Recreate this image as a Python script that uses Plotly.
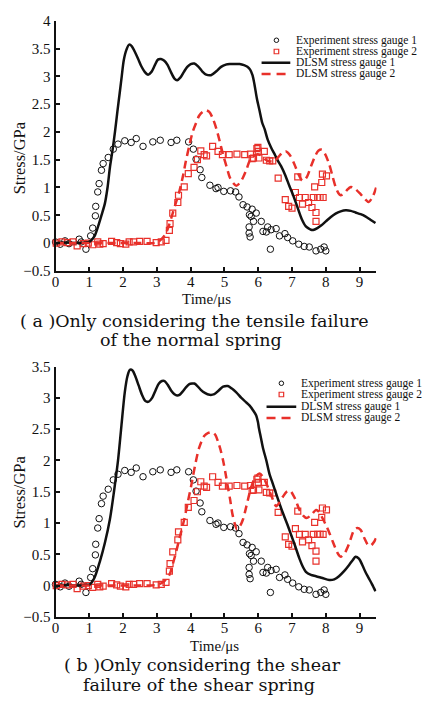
import plotly.graph_objects as go

# ---------------- data ----------------
# Experimental gauge readings (same test, shown in both panels)
exp1_t = [0.0, 0.14, 0.28, 0.40, 0.70, 0.76, 0.90, 1.04, 1.10, 1.18, 1.19, 1.25, 1.29, 1.36, 1.41,
          1.56, 1.71, 1.85, 2.05, 2.24, 2.39, 2.59, 2.88, 3.10, 3.42, 3.59, 3.94, 4.08, 4.16, 4.28,
          4.33, 4.57, 4.75, 4.81, 4.98, 5.18, 5.33, 5.43, 5.55, 5.67, 5.82, 5.74, 5.79, 5.94, 5.86,
          5.73, 5.73, 5.76, 6.09, 6.28, 6.14, 6.24, 6.38, 6.53, 6.36, 6.63, 6.79, 6.87, 7.02, 7.20,
          7.36, 7.51, 7.71, 7.85, 7.95, 8.00]
exp1_s = [0.02, -0.02, 0.04, -0.01, 0.07, 0.02, -0.11, 0.13, 0.27, 0.49, 0.66, 0.92, 1.07, 1.31, 1.43,
          1.54, 1.69, 1.78, 1.84, 1.81, 1.88, 1.74, 1.82, 1.85, 1.81, 1.85, 1.82, 1.69, 1.51, 1.32,
          1.18, 1.04, 0.98, 1.00, 0.93, 0.94, 0.92, 0.83, 0.69, 0.65, 0.61, 0.51, 0.48, 0.54, 0.39,
          0.29, 0.18, 0.11, 0.39, 0.29, 0.21, 0.20, 0.24, 0.26, -0.11, 0.13, 0.17, 0.10, 0.04, -0.02,
          -0.06, -0.07, -0.14, -0.11, -0.07, -0.14]

exp2_t = [0.02, 0.19, 0.35, 0.52, 0.64, 0.82, 0.97, 1.10, 1.25, 1.31, 1.41, 1.66, 1.81, 1.92, 2.08,
          2.18, 2.31, 2.49, 2.71, 2.98, 3.13, 3.27, 3.37, 3.39, 3.47, 3.62, 3.64, 3.81, 3.93, 4.10,
          4.20, 4.30, 4.40, 4.47, 4.65, 4.81, 4.94, 5.14, 5.37, 5.60, 5.77, 5.82, 5.86, 5.96, 5.99,
          6.00, 6.02, 6.18, 6.24, 6.34, 6.43, 6.59, 6.80, 6.90, 7.00, 7.10, 7.17, 7.22, 7.31, 7.39,
          7.49, 7.59, 7.63, 7.67, 7.71, 7.71, 7.76, 7.83, 7.88, 7.92, 7.90, 8.02]
exp2_s = [0.00, 0.02, 0.01, 0.02, -0.05, -0.01, 0.00, -0.03, 0.02, -0.02, -0.01, 0.03, 0.01, -0.01, -0.02,
          0.02, 0.02, 0.03, 0.03, 0.01, 0.02, 0.05, 0.23, 0.35, 0.54, 0.73, 0.86, 1.01, 1.25, 1.36,
          1.50, 1.66, 1.59, 1.57, 1.74, 1.65, 1.59, 1.59, 1.60, 1.59, 1.60, 1.52, 1.53, 1.70, 1.72,
          1.65, 1.53, 1.65, 1.49, 1.48, 1.48, 1.17, 0.78, 0.66, 0.63, 0.91, 1.19, 0.82, 0.70, 0.82,
          0.73, 0.64, 0.82, 1.01, 0.55, 0.39, 0.82, 0.82, 1.09, 0.82, 1.24, 1.21]

# DLSM, tensile failure of the normal spring only
a_g1_t = [0, 0.3, 0.6, 0.9, 1.02, 1.15, 1.26, 1.36, 1.46, 1.54, 1.61, 1.69, 1.76, 1.83, 1.9, 1.96,
          2.02, 2.1, 2.18, 2.26, 2.34, 2.44, 2.54, 2.64, 2.74, 2.84, 2.94, 3.03, 3.12, 3.22, 3.32,
          3.42, 3.52, 3.6, 3.7, 3.8, 3.9, 4.0, 4.11, 4.22, 4.34, 4.46, 4.6, 4.76, 4.9, 5.04, 5.16,
          5.3, 5.45, 5.58, 5.68, 5.76, 5.83, 5.89, 5.96, 6.04, 6.12, 6.19, 6.28, 6.38, 6.5, 6.6,
          6.68, 6.8, 6.92, 7.04, 7.17, 7.29, 7.41, 7.5, 7.56, 7.65, 7.75, 7.87, 8.0, 8.15, 8.29,
          8.44, 8.59, 8.74, 8.88, 9.03, 9.17, 9.32, 9.47]
a_g1_s = [0, 0.01, 0.0, 0.01, 0.03, 0.12, 0.3, 0.5, 0.71, 1.0, 1.36, 1.68, 2.0, 2.36, 2.7, 3.0,
          3.29, 3.48, 3.57, 3.54, 3.45, 3.32, 3.18, 3.08, 3.03, 3.08, 3.2, 3.3, 3.31, 3.28, 3.2,
          3.07, 2.96, 2.93, 2.98, 3.08, 3.17, 3.22, 3.23, 3.18, 3.09, 3.03, 3.02, 3.09, 3.17, 3.21,
          3.22, 3.22, 3.22, 3.2, 3.17, 3.12, 3.02, 2.85, 2.6, 2.38, 2.16, 2.05, 1.86, 1.72, 1.58,
          1.46, 1.38, 1.22, 1.03, 0.85, 0.63, 0.43, 0.3, 0.26, 0.24, 0.24, 0.27, 0.32, 0.39, 0.47,
          0.53, 0.57, 0.59, 0.58, 0.55, 0.52, 0.48, 0.42, 0.36]

a_g2_t = [0, 0.5, 1.0, 1.5, 2.0, 2.5, 3.0, 3.15, 3.27, 3.37, 3.47, 3.57, 3.67, 3.77, 3.86, 3.96,
          4.06, 4.16, 4.25, 4.35, 4.45, 4.55, 4.65, 4.76, 4.86, 4.96, 5.06, 5.16, 5.26, 5.35, 5.45,
          5.55, 5.65, 5.74, 5.86, 5.98, 6.1, 6.22, 6.35, 6.48, 6.6, 6.72, 6.82, 6.94, 7.07, 7.19,
          7.31, 7.43, 7.56, 7.68, 7.78, 7.88, 7.98, 8.1, 8.2, 8.29, 8.37, 8.44, 8.52, 8.62, 8.74,
          8.86, 9.03, 9.15, 9.27, 9.4, 9.52]
a_g2_s = [0, 0, 0, 0, 0, 0, 0.01, 0.08, 0.18, 0.34, 0.54, 0.74, 0.94, 1.2, 1.48, 1.75,
          2.0, 2.16, 2.29, 2.36, 2.39, 2.36, 2.25, 2.06, 1.83, 1.59, 1.38, 1.18, 1.08, 1.03, 1.08,
          1.18, 1.32, 1.47, 1.56, 1.6, 1.57, 1.5, 1.47, 1.47, 1.55, 1.63, 1.65, 1.58, 1.42, 1.24,
          1.12, 1.18, 1.38, 1.56, 1.66, 1.68, 1.6, 1.42, 1.2, 1.01, 0.9, 0.86, 0.88, 0.95, 1.01,
          0.98, 0.88, 0.8, 0.74, 0.85, 1.06]

# DLSM, shear failure of the shear spring only
b_g1_t = [0, 0.3, 0.6, 0.9, 1.02, 1.15, 1.31, 1.46, 1.61, 1.73, 1.85, 1.95, 2.05, 2.13, 2.2, 2.28,
          2.36, 2.46, 2.56, 2.66, 2.76, 2.86, 2.96, 3.06, 3.15, 3.23, 3.32, 3.42, 3.52, 3.6, 3.67,
          3.76, 3.86, 3.96, 4.04, 4.11, 4.2, 4.3, 4.42, 4.56, 4.7, 4.83, 4.96, 5.1, 5.22, 5.35,
          5.5, 5.62, 5.74, 5.85, 5.94, 5.99, 6.02, 6.08, 6.14, 6.24, 6.33, 6.43, 6.53, 6.63, 6.73,
          6.86, 6.98, 7.1, 7.22, 7.32, 7.41, 7.56, 7.71, 7.9, 8.1, 8.25, 8.39, 8.54, 8.69, 8.8,
          8.88, 8.98, 9.08, 9.17, 9.27, 9.37, 9.47]
b_g1_s = [0, 0.01, 0, 0.01, 0.02, 0.12, 0.38, 0.68, 1.06, 1.5, 2.0, 2.55, 3.09, 3.35, 3.45, 3.44,
          3.35, 3.2, 3.05, 2.95, 2.94, 3.0, 3.12, 3.23, 3.27, 3.27, 3.21, 3.12, 3.06, 3.04, 3.05,
          3.1, 3.17, 3.22, 3.23, 3.23, 3.19, 3.13, 3.08, 3.05, 3.06, 3.12, 3.18, 3.19, 3.15, 3.09,
          3.0, 2.94, 2.88, 2.8, 2.72, 2.62, 2.52, 2.36, 2.2, 2.0, 1.79, 1.63, 1.47, 1.31, 1.16,
          0.98, 0.8, 0.62, 0.43, 0.3, 0.22, 0.17, 0.15, 0.12, 0.09, 0.1, 0.15, 0.23, 0.33, 0.41,
          0.46, 0.43, 0.33, 0.22, 0.12, 0.02, -0.09]

b_g2_t = [0, 0.5, 1.0, 1.5, 2.0, 2.5, 3.0, 3.2, 3.37, 3.47, 3.57, 3.69, 3.81, 3.91, 4.01, 4.13,
          4.25, 4.4, 4.52, 4.65, 4.73, 4.81, 4.89, 4.96, 5.03, 5.1, 5.17, 5.23, 5.3, 5.37, 5.46,
          5.55, 5.65, 5.74, 5.84, 5.94, 6.04, 6.16, 6.28, 6.4, 6.53, 6.63, 6.73, 6.84, 6.94, 7.08,
          7.22, 7.33, 7.43, 7.57, 7.71, 7.8, 7.9, 8.0, 8.1, 8.2, 8.29, 8.37, 8.44, 8.56, 8.69,
          8.83, 8.93, 9.03, 9.14, 9.25, 9.33, 9.43, 9.52]
b_g2_s = [0, 0, 0, 0, 0, 0, 0.01, 0.06, 0.17, 0.34, 0.54, 0.8, 1.06, 1.32, 1.58, 1.92,
          2.2, 2.39, 2.44, 2.45, 2.41, 2.3, 2.16, 2.0, 1.8, 1.58, 1.37, 1.16, 1.0, 0.9, 0.95,
          1.06, 1.27, 1.47, 1.65, 1.75, 1.79, 1.72, 1.58, 1.42, 1.27, 1.33, 1.42, 1.5, 1.52, 1.4,
          1.21, 1.12, 1.08, 1.13, 1.21, 1.18, 1.08, 0.97, 0.85, 0.71, 0.59, 0.5, 0.46, 0.52, 0.67,
          0.88, 0.92, 0.89, 0.76, 0.65, 0.64, 0.7, 0.8]

legend_names = ["Experiment stress gauge 1", "Experiment stress gauge 2",
                "DLSM stress gauge 1", "DLSM stress gauge 2"]
captions = [("( a )Only considering the tensile failure", "of the normal spring"),
            ("( b )Only considering the shear", "failure of the shear spring")]
x_ticks = list(range(0, 10))

# ---------------- styling ----------------
W, H = 428, 704
RED = "#e8302a"
BLACK = "#111111"
SERIF = "Liberation Serif"
WIDE_SERIF = "DejaVu Serif"


def px(x):
    return x / W


def py(y):
    return 1 - y / H


fig = go.Figure()

panels = [
    dict(xa="x", ya="y", g1=(a_g1_t, a_g1_s), g2=(a_g2_t, a_g2_s)),
    dict(xa="x2", ya="y2", g1=(b_g1_t, b_g1_s), g2=(b_g2_t, b_g2_s)),
]

for p in panels:
    fig.add_trace(go.Scatter(x=exp1_t, y=exp1_s, mode="markers", xaxis=p["xa"], yaxis=p["ya"],
                             marker=dict(symbol="circle-open", size=6.5, color=BLACK,
                                         line=dict(width=1)),
                             cliponaxis=False, showlegend=False))
    fig.add_trace(go.Scatter(x=exp2_t, y=exp2_s, mode="markers", xaxis=p["xa"], yaxis=p["ya"],
                             marker=dict(symbol="square-open", size=6, color=RED,
                                         line=dict(width=1.2)),
                             cliponaxis=False, showlegend=False))
    fig.add_trace(go.Scatter(x=p["g1"][0], y=p["g1"][1], mode="lines", xaxis=p["xa"], yaxis=p["ya"],
                             line=dict(color=BLACK, width=2.5, shape="spline", smoothing=0.8),
                             showlegend=False))
    fig.add_trace(go.Scatter(x=p["g2"][0], y=p["g2"][1], mode="lines", xaxis=p["xa"], yaxis=p["ya"],
                             line=dict(color=RED, width=2.5, dash="8px,5px", shape="spline",
                                       smoothing=0.8),
                             showlegend=False))

axis_common = dict(showline=True, linecolor=BLACK, linewidth=2, ticks="inside", ticklen=4,
                   tickwidth=1.5, tickcolor=BLACK, showgrid=False, zeroline=False,
                   tickfont=dict(family=SERIF, size=15, color=BLACK), mirror=False)

x_dom = [px(52), px(376)]
fig.update_layout(
    xaxis=dict(axis_common, domain=x_dom, range=[0, 9.5], tickvals=x_ticks, anchor="y",
               ticklabelstandoff=-4),
    yaxis=dict(axis_common, domain=[py(269), py(13)], range=[-0.5, 4], dtick=0.5, anchor="x"),
    xaxis2=dict(axis_common, domain=x_dom, range=[0, 9.5], tickvals=x_ticks, anchor="y2",
                ticklabelstandoff=-4),
    yaxis2=dict(axis_common, domain=[py(623), py(367)], range=[-0.5, 3.5], dtick=0.5, anchor="x2"),
)

annotations = []
shapes = []


def text(x, y, s, size, anchor="center", angle=0, family=SERIF):
    annotations.append(dict(x=px(x), y=py(y), xref="paper", yref="paper", text=s,
                            showarrow=False, xanchor=anchor, yanchor="middle", textangle=angle,
                            borderpad=0, font=dict(family=family, size=size, color=BLACK)))


# axis titles and captions
text(16, 153, "Stress/GPa", 16.5, angle=-90)
text(16, 495, "Stress/GPa", 16.5, angle=-90)
text(204, 298, "Time/μs", 15)
text(212, 653, "Time/μs", 15)
text(192, 320, captions[0][0], 17.5, family=WIDE_SERIF)
text(189, 340, captions[0][1], 17.5, family=WIDE_SERIF)
text(200, 672, captions[1][0], 17.5, family=WIDE_SERIF)
text(197, 693, captions[1][1], 17.5, family=WIDE_SERIF)


def legend(x_line0, x_line1, x_mark, x_text, rows):
    for name, y in zip(legend_names, rows):
        text(x_text, y, name, 11.5, anchor="left")
    r = 2.3
    y0 = rows[0]
    shapes.append(dict(type="circle", xref="paper", yref="paper",
                       x0=px(x_mark - r), x1=px(x_mark + r), y0=py(y0 + r), y1=py(y0 - r),
                       line=dict(color=BLACK, width=1)))
    y1 = rows[1]
    shapes.append(dict(type="rect", xref="paper", yref="paper",
                       x0=px(x_mark - r), x1=px(x_mark + r), y0=py(y1 + r), y1=py(y1 - r),
                       line=dict(color=RED, width=1.2)))
    shapes.append(dict(type="line", xref="paper", yref="paper",
                       x0=px(x_line0), x1=px(x_line1), y0=py(rows[2]), y1=py(rows[2]),
                       line=dict(color=BLACK, width=2.5)))
    shapes.append(dict(type="line", xref="paper", yref="paper",
                       x0=px(x_line0), x1=px(x_line1), y0=py(rows[3]), y1=py(rows[3]),
                       line=dict(color=RED, width=2.5, dash="9px,6px")))


legend(260, 289, 275, 294, [33, 44.5, 56, 67.5])
legend(265, 295, 280, 299, [384, 395.5, 408, 419.5])

fig.update_layout(width=W, height=H, margin=dict(l=0, r=0, t=0, b=0),
                  paper_bgcolor="white", plot_bgcolor="white",
                  annotations=annotations, shapes=shapes, showlegend=False)

fig.write_html("out.html")
